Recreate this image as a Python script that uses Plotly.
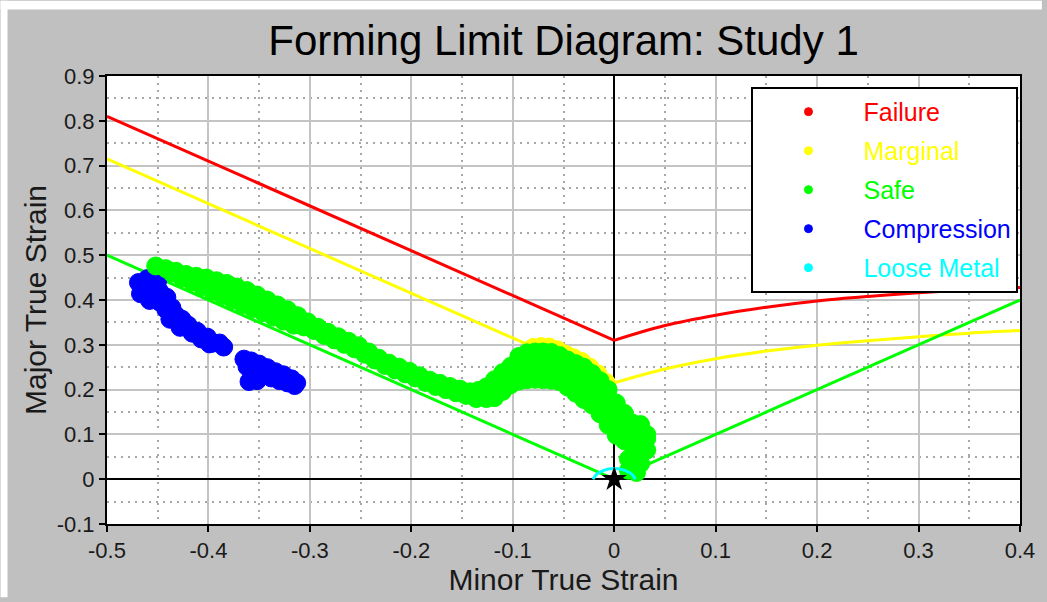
import plotly.graph_objects as go

# ---- forming limit curves (minor strain -> major strain) ----
flc_minor = [-0.5, 0.0, 0.05, 0.10, 0.15, 0.20, 0.25, 0.30, 0.35, 0.40]
flc_failure = [0.810, 0.310, 0.343, 0.366, 0.384, 0.398, 0.408, 0.416, 0.423, 0.428]
flc_marginal = [0.715, 0.215, 0.246, 0.269, 0.286, 0.299, 0.309, 0.318, 0.326, 0.332]
flc_safe_minor = [-0.5, 0.0, 0.4]
flc_safe_major = [0.5, 0.0, 0.4]

# ---- measured strain points ----
safe_minor = [
    -0.452, -0.442, -0.432, -0.422, -0.412, -0.402, -0.392, -0.382, -0.372, -0.362,
    -0.352, -0.342, -0.332, -0.322, -0.312, -0.302, -0.292, -0.282, -0.272, -0.262,
    -0.252, -0.242, -0.232, -0.222, -0.212, -0.202, -0.192, -0.182, -0.172, -0.162,
    -0.152, -0.142,
    -0.436, -0.426, -0.416, -0.406, -0.396, -0.386, -0.376, -0.366, -0.356, -0.346,
    -0.336, -0.326, -0.316, -0.306, -0.296, -0.286, -0.276, -0.266, -0.256, -0.246,
    -0.236, -0.226, -0.216, -0.206, -0.196, -0.186, -0.176, -0.166, -0.156, -0.146,
    -0.136, -0.126,
    -0.397, -0.387, -0.377, -0.367, -0.357, -0.347, -0.337, -0.327, -0.317,
    -0.134, -0.134, -0.126, -0.126,
    -0.118, -0.118, -0.118,
    -0.110, -0.110, -0.110,
    -0.102, -0.102, -0.102,
    -0.094, -0.094, -0.094, -0.094,
    -0.086, -0.086, -0.086, -0.086,
    -0.078, -0.078, -0.078, -0.078,
    -0.070, -0.070, -0.070, -0.070,
    -0.062, -0.062, -0.062, -0.062,
    -0.054, -0.054, -0.054, -0.054,
    -0.046, -0.046, -0.046, -0.046,
    -0.038, -0.038, -0.038, -0.038,
    -0.030, -0.030, -0.030, -0.030,
    -0.022, -0.022, -0.022, -0.022,
    -0.014, -0.014, -0.014, -0.014,
    -0.006, -0.006, -0.006, -0.006,
    0.002, 0.002, 0.002, 0.002,
    0.010, 0.010, 0.010, 0.010,
    0.018, 0.018, 0.018,
    0.026, 0.026, 0.026, 0.026, 0.026,
    0.032, 0.032, 0.032,
    0.014, 0.014, 0.022,
]
safe_major = [
    0.476, 0.470, 0.464, 0.457, 0.453, 0.449, 0.443, 0.437, 0.429, 0.421,
    0.411, 0.400, 0.389, 0.378, 0.365, 0.351, 0.339, 0.328, 0.318, 0.308,
    0.298, 0.284, 0.270, 0.259, 0.250, 0.241, 0.231, 0.221, 0.214, 0.207,
    0.201, 0.195,
    0.460, 0.450, 0.440, 0.430, 0.420, 0.410, 0.400, 0.390, 0.381, 0.372,
    0.362, 0.353, 0.344, 0.340, 0.332, 0.321, 0.311, 0.301, 0.291, 0.279,
    0.266, 0.254, 0.244, 0.235, 0.226, 0.216, 0.207, 0.200, 0.193, 0.187,
    0.180, 0.180,
    0.432, 0.424, 0.416, 0.407, 0.397, 0.387, 0.377, 0.367, 0.356,
    0.185, 0.198, 0.184, 0.206,
    0.182, 0.202, 0.222,
    0.196, 0.217, 0.238,
    0.211, 0.232, 0.252,
    0.219, 0.240, 0.258, 0.274,
    0.222, 0.244, 0.264, 0.282,
    0.223, 0.245, 0.265, 0.284,
    0.222, 0.244, 0.265, 0.284,
    0.221, 0.243, 0.264, 0.283,
    0.218, 0.240, 0.260, 0.276,
    0.206, 0.228, 0.248, 0.266,
    0.192, 0.214, 0.238, 0.258,
    0.178, 0.200, 0.226, 0.250,
    0.166, 0.190, 0.213, 0.236,
    0.146, 0.170, 0.196, 0.220,
    0.121, 0.146, 0.175, 0.200,
    0.098, 0.125, 0.150, 0.170,
    0.086, 0.110, 0.132, 0.147,
    0.075, 0.100, 0.125,
    0.035, 0.060, 0.085, 0.105, 0.122,
    0.065, 0.090, 0.100,
    0.020, 0.045, 0.015,
]

marginal_minor = [-0.080, -0.072, -0.064, -0.056, -0.048, -0.040, -0.032, -0.024, -0.016, -0.008]
marginal_major = [0.294, 0.296, 0.295, 0.289, 0.279, 0.271, 0.263, 0.250, 0.235, 0.216]

compression_minor = [
    -0.469, -0.460, -0.450, -0.467, -0.458, -0.448, -0.458, -0.448, -0.441,
    -0.436, -0.442, -0.432, -0.438, -0.426, -0.428, -0.420, -0.416, -0.411,
    -0.407, -0.401, -0.395, -0.389, -0.385, -0.399,
    -0.365, -0.358, -0.350, -0.342, -0.334, -0.326, -0.318, -0.313,
    -0.362, -0.354, -0.346, -0.338, -0.330, -0.322, -0.315,
    -0.360, -0.352,
]
compression_major = [
    0.439, 0.448, 0.443, 0.414, 0.423, 0.419, 0.399, 0.395, 0.406,
    0.383, 0.379, 0.366, 0.357, 0.357, 0.339, 0.344, 0.326, 0.330,
    0.313, 0.317, 0.304, 0.304, 0.295, 0.302,
    0.268, 0.264, 0.257, 0.249, 0.240, 0.233, 0.224, 0.215,
    0.251, 0.242, 0.233, 0.226, 0.220, 0.215, 0.209,
    0.218, 0.220,
]

loose_minor = [-0.021, -0.017, -0.011, -0.005, 0.0, 0.005, 0.011, 0.017, 0.021]
loose_major = [0.0, 0.012, 0.019, 0.023, 0.024, 0.023, 0.019, 0.012, 0.0]

origin_minor = [0.0]
origin_major = [0.0]

# ---- axis ticks ----
x_ticks = [-0.5, -0.4, -0.3, -0.2, -0.1, 0.0, 0.1, 0.2, 0.3, 0.4]
x_tick_text = ["-0.5", "-0.4", "-0.3", "-0.2", "-0.1", "0", "0.1", "0.2", "0.3", "0.4"]
x_minor_ticks = [-0.45, -0.35, -0.25, -0.15, -0.05, 0.05, 0.15, 0.25, 0.35]
y_ticks = [-0.1, 0.0, 0.1, 0.2, 0.3, 0.4, 0.5, 0.6, 0.7, 0.8, 0.9]
y_tick_text = ["-0.1", "0", "0.1", "0.2", "0.3", "0.4", "0.5", "0.6", "0.7", "0.8", "0.9"]
y_minor_ticks = [-0.05, 0.05, 0.15, 0.25, 0.35, 0.45, 0.55, 0.65, 0.75, 0.85]

legend_labels = ["Failure", "Marginal", "Safe", "Compression", "Loose Metal"]
legend_colors = ["#ff0000", "#ffff00", "#00ff00", "#0000ff", "#00ffff"]

RED, YELLOW, GREEN, BLUE, CYAN = legend_colors

# ---- page geometry (pixels) ----
W, H = 1047, 602
ML, MR, MT, MB = 107, 22, 76, 74
PW, PH = W - ML - MR, H - MT - MB

FONT = "Arial, Liberation Sans, sans-serif"


def dots(color, size):
    """Solid, fully opaque round markers with an edge in the same colour."""
    return dict(color=color, size=size, opacity=1, symbol="circle",
                line=dict(width=1, color=color))


fig = go.Figure()

# limit curves
fig.add_trace(go.Scatter(x=flc_minor[:2], y=flc_failure[:2], mode="lines",
                         line=dict(color=RED, width=3), showlegend=False, hoverinfo="skip"))
fig.add_trace(go.Scatter(x=flc_minor[1:], y=flc_failure[1:], mode="lines",
                         line=dict(color=RED, width=3, shape="spline"), showlegend=False, hoverinfo="skip"))
fig.add_trace(go.Scatter(x=flc_minor[:2], y=flc_marginal[:2], mode="lines",
                         line=dict(color=YELLOW, width=3), showlegend=False, hoverinfo="skip"))
fig.add_trace(go.Scatter(x=flc_minor[1:], y=flc_marginal[1:], mode="lines",
                         line=dict(color=YELLOW, width=3, shape="spline"), showlegend=False, hoverinfo="skip"))
fig.add_trace(go.Scatter(x=flc_safe_minor, y=flc_safe_major, mode="lines",
                         line=dict(color=GREEN, width=3), showlegend=False, hoverinfo="skip"))

# strain points: dense clouds of overlapping dots
PT = 18
fig.add_trace(go.Scatter(x=compression_minor, y=compression_major, mode="markers",
                         marker=dots(BLUE, PT), showlegend=False, name="Compression"))
fig.add_trace(go.Scatter(x=marginal_minor, y=marginal_major, mode="markers",
                         marker=dots(YELLOW, PT), showlegend=False, name="Marginal"))
fig.add_trace(go.Scatter(x=safe_minor, y=safe_major, mode="markers",
                         marker=dots(GREEN, PT), showlegend=False, name="Safe"))
fig.add_trace(go.Scatter(x=loose_minor, y=loose_major, mode="lines",
                         line=dict(color=CYAN, width=3, shape="spline"), showlegend=False,
                         name="Loose Metal"))
fig.add_trace(go.Scatter(x=origin_minor, y=origin_major, mode="markers",
                         marker=dict(color="black", size=19, symbol="star", line=dict(width=0)),
                         showlegend=False, hoverinfo="skip"))

# legend entries
for label, col in zip(legend_labels, legend_colors):
    fig.add_trace(go.Scatter(x=[None], y=[None], mode="markers",
                             marker=dots(col, 8),
                             legendgroup=label,
                             name=f'<span style="color:{col}">{label}</span>'))

axis_common = dict(
    showline=True, linecolor="black", linewidth=2, mirror=True,
    ticks="outside", ticklen=6, tickwidth=2, tickcolor="black",
    showgrid=True, gridcolor="#c4c4c4", gridwidth=2,
    zeroline=True, zerolinecolor="black", zerolinewidth=2,
    tickfont=dict(family=FONT, size=22, color="#1a1a1a"),
    tickmode="array",
)

fig.update_layout(
    width=W, height=H,
    margin=dict(l=ML, r=MR, t=MT, b=MB),
    paper_bgcolor="#c0c0c0",
    plot_bgcolor="white",
    title=dict(text="Forming Limit Diagram: Study 1", x=0.5, xref="paper",
               y=1 - 40 / H, yref="container", yanchor="middle",
               font=dict(family=FONT, size=42, color="black")),
    xaxis=dict(axis_common, range=[-0.5, 0.4], tickvals=x_ticks, ticktext=x_tick_text,
               minor=dict(tickmode="array", tickvals=x_minor_ticks, showgrid=True,
                          gridcolor="#a8a8a8", gridwidth=1.5, griddash="2px,5px", ticks=""),
               title=dict(text="Minor True Strain", standoff=6,
                          font=dict(family=FONT, size=30, color="#1a1a1a"))),
    yaxis=dict(axis_common, range=[-0.1, 0.9], tickvals=y_ticks, ticktext=y_tick_text,
               minor=dict(tickmode="array", tickvals=y_minor_ticks, showgrid=True,
                          gridcolor="#a8a8a8", gridwidth=1.5, griddash="2px,5px", ticks=""),
               title=dict(text="Major True Strain", standoff=1,
                          font=dict(family=FONT, size=30, color="#1a1a1a"))),
    legend=dict(x=(755 - ML) / PW, y=(MT + PH - 87) / PH, xanchor="left", yanchor="top",
                bgcolor="white", bordercolor="black", borderwidth=2,
                font=dict(family=FONT, size=25), itemwidth=100, itemclick=False,
                tracegroupgap=3.5),
    showlegend=True,
)

# thin white strips along the top and left page edges
fig.add_shape(type="rect", xref="paper", yref="paper", layer="above",
              x0=-ML / PW, x1=(W - ML) / PW, y0=(H - MB - 9) / PH, y1=(H - MB) / PH,
              fillcolor="white", line=dict(width=0))
fig.add_shape(type="rect", xref="paper", yref="paper", layer="above",
              x0=-ML / PW, x1=(7 - ML) / PW, y0=-MB / PH, y1=(H - MB) / PH,
              fillcolor="white", line=dict(width=0))

fig.write_html("out.html")
